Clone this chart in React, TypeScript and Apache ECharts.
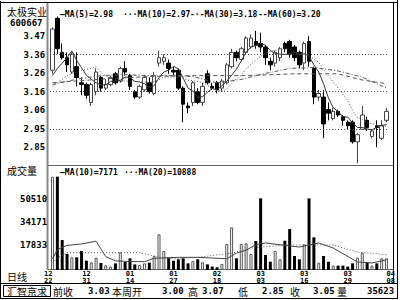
import React, { useEffect, useRef } from 'react';
import * as echarts from 'echarts';

const dates = [
  '12/22','12/23','12/24','12/27','12/28','12/29','12/30','12/31',
  '01/04','01/05','01/06','01/07','01/10','01/11','01/12','01/13','01/14',
  '01/17','01/18','01/19','01/20','01/21','01/24','01/25','01/26','01/27',
  '01/28','01/31','02/01','02/02','02/03','02/04','02/16','02/17','02/18',
  '02/21','02/22','02/23','02/24','02/25','02/28','03/01','03/02','03/03',
  '03/04','03/07','03/08','03/09','03/10','03/11','03/14','03/15','03/16',
  '03/17','03/18','03/21','03/22','03/23','03/24','03/25','03/28','03/29',
  '03/30','03/31','04/01','04/04','04/05','04/06','04/07','04/08'
];
const labelDates = ['12/22','12/31','01/14','01/27','02/18','03/03','03/16','03/29','04/08'];

const opens = [
  3.28,3.57,3.38,3.35,3.27,3.30,3.21,3.20,3.10,3.16,
  3.24,3.18,3.20,3.26,3.22,3.29,3.25,3.16,3.13,3.17,
  3.21,3.15,3.32,3.33,3.32,3.28,3.28,3.18,3.08,3.10,
  3.16,3.10,3.26,3.19,3.21,3.18,3.21,3.30,3.38,3.34,
  3.38,3.41,3.44,3.43,3.41,3.33,3.32,3.35,3.43,3.44,
  3.41,3.38,3.32,3.44,3.29,3.13,3.13,3.06,3.01,3.05,
  3.02,2.99,2.99,2.88,2.95,3.00,2.91,2.97,2.90,3.00
];
const closes = [
  3.51,3.40,3.35,3.31,3.37,3.24,3.20,3.14,3.20,3.27,
  3.18,3.20,3.24,3.21,3.29,3.27,3.19,3.13,3.19,3.24,
  3.16,3.25,3.35,3.35,3.29,3.27,3.18,3.09,3.07,3.21,
  3.10,3.19,3.21,3.18,3.17,3.22,3.31,3.38,3.35,3.40,
  3.46,3.46,3.42,3.41,3.35,3.31,3.38,3.40,3.40,3.37,
  3.35,3.31,3.43,3.33,3.13,3.15,2.98,3.04,3.05,3.03,
  3.00,2.97,2.88,2.92,3.03,2.96,2.94,2.96,2.97,3.05
];
const lows = [
  3.26,3.37,3.34,3.27,3.26,3.19,3.14,3.12,3.08,3.14,
  3.16,3.17,3.19,3.20,3.21,3.25,3.17,3.12,3.12,3.16,
  3.15,3.14,3.30,3.31,3.26,3.25,3.17,2.99,3.04,3.08,
  3.09,3.08,3.20,3.17,3.15,3.16,3.20,3.29,3.33,3.33,
  3.37,3.40,3.40,3.38,3.31,3.28,3.30,3.33,3.38,3.35,
  3.33,3.29,3.28,3.30,3.09,3.11,2.90,3.00,3.00,3.02,
  2.97,2.95,2.87,2.76,2.95,2.94,2.90,2.85,2.89,2.99
];
const highs = [
  3.52,3.58,3.43,3.38,3.38,3.38,3.24,3.21,3.21,3.29,
  3.25,3.23,3.25,3.27,3.30,3.33,3.26,3.17,3.20,3.25,
  3.24,3.27,3.39,3.37,3.34,3.30,3.29,3.19,3.10,3.22,
  3.18,3.21,3.28,3.21,3.22,3.23,3.32,3.40,3.39,3.41,
  3.47,3.48,3.50,3.49,3.42,3.35,3.39,3.41,3.44,3.45,
  3.42,3.39,3.44,3.47,3.30,3.17,3.17,3.10,3.07,3.06,
  3.03,3.00,3.00,2.93,3.08,3.02,2.95,3.00,3.00,3.07
];
const volumes = [
  66300,66300,21300,11400,9000,9000,13500,6600,5450,8800,
  5000,3300,2400,4700,12550,5700,8300,4000,3550,4700,
  5200,9900,25300,13500,8800,6600,7600,8300,4700,6400,
  7600,5450,4000,2400,1900,4300,18500,30300,8300,18500,
  19000,11400,20600,50900,10650,5900,13500,7600,20800,29100,
  9950,7600,18200,50900,23200,5200,9950,5900,3100,3100,
  3100,2400,4700,8800,12300,5450,3100,4700,8300,8300
];

const N = null;
const ma5 = [
  3.25,3.29,3.32,3.35,3.388,3.334,3.294,3.252,3.23,3.21,
  3.198,3.198,3.218,3.22,3.224,3.242,3.24,3.218,3.214,3.204,
  3.182,3.194,3.238,3.27,3.28,3.302,3.288,3.236,3.18,3.164,
  3.13,3.132,3.156,3.178,3.17,3.194,3.218,3.252,3.286,3.332,
  3.38,3.41,3.418,3.43,3.42,3.39,3.374,3.37,3.368,3.372,
  3.38,3.366,3.372,3.358,3.31,3.27,3.204,3.126,3.07,3.05,
  3.02,3.018,2.986,2.96,2.96,2.952,2.946,2.962,2.972,2.976
];
const ma10 = [
  3.19,3.21,3.23,3.25,3.26,3.27,3.28,3.285,3.29,3.299,
  3.266,3.246,3.235,3.225,3.217,3.22,3.219,3.218,3.217,3.214,
  3.212,3.217,3.228,3.242,3.242,3.242,3.241,3.237,3.225,3.222,
  3.216,3.21,3.196,3.179,3.167,3.162,3.175,3.204,3.232,3.251,
  3.287,3.314,3.335,3.358,3.376,3.385,3.392,3.394,3.399,3.396,
  3.385,3.37,3.371,3.363,3.341,3.325,3.285,3.249,3.214,3.18,
  3.145,3.111,3.056,3.015,3.005,2.986,2.982,2.974,2.966,2.968
];
const ma30 = [
  3.20,N,N,N,N,3.23,N,N,N,N,3.25,N,N,N,N,3.255,N,N,N,N,
  3.25,N,N,N,N,3.25,N,N,N,3.245,N,N,N,N,3.209,N,N,N,N,3.229,
  N,N,N,N,3.262,N,N,N,N,3.29,N,N,N,N,3.295,N,N,N,N,3.276,
  N,N,N,N,3.241,N,N,N,N,3.181
];
const ma60 = [
  3.21,N,N,N,N,N,N,N,N,N,3.23,N,N,N,N,N,N,N,N,N,
  3.245,N,N,N,N,N,N,N,N,N,3.25,N,N,N,N,N,N,N,N,N,
  3.25,N,N,N,N,N,N,N,N,N,3.26,N,N,N,N,N,N,N,N,3.26,
  N,N,N,N,3.225,N,N,N,N,3.205
];
const volMa10 = [
  8000,14500,N,17500,N,N,18500,N,N,20500,
  15000,9500,N,6500,N,N,6000,N,N,5900,
  N,8300,N,N,N,N,9000,N,N,N,
  9000,N,N,N,N,N,8000,N,12000,N,
  14000,N,18000,N,19200,N,N,N,N,N,
  N,16300,N,N,N,19200,N,N,15600,N,
  N,N,N,5700,N,N,5000,N,N,7171
];
const volMa20 = [
  5000,8500,N,12300,N,N,N,N,N,N,
  12300,N,N,N,N,N,N,N,12300,N,
  N,N,9200,N,N,8000,N,N,N,N,
  9000,N,N,N,N,N,N,12000,N,N,
  N,15600,N,N,N,N,N,N,17760,N,
  N,N,N,N,N,N,N,N,17760,N,
  N,N,N,12800,N,N,N,N,N,10888
];

const priceTicks = [2.85, 2.9533, 3.0567, 3.16, 3.2633, 3.3667, 3.47];
const priceTickLabels = ['2.85', '2.95', '3.06', '3.16', '3.26', '3.36', '3.47'];
const priceGridValues = [2.9533, 3.16, 3.3667];
const volTicks = [17833, 34171, 50510];

const legendPrice = ['MA(5)=2.98', 'MA(10)=2.97', 'MA(30)=3.18', 'MA(60)=3.20'];
const legendVol = ['MA(10)=7171', 'MA(20)=10888'];
const statusItems = [
  ['前收', '3.03'], ['本周开', '3.00'], ['高', '3.07'], ['低', '2.85'], ['收', '3.05'], ['量', '35623']
];

const MONO = '"DejaVu Sans Mono", monospace';
const CJK = '"Noto Sans CJK SC", sans-serif';

export default function App() {
  const ref = useRef<HTMLDivElement>(null);
  useEffect(() => {
    document.body.style.margin = '0';
    const chart = echarts.init(ref.current!, null, { renderer: 'svg' });
    const candle = opens.map((o, i) => [o, closes[i], lows[i], highs[i]]);
    const volData = volumes.map((v, i) => ({
      value: v,
      itemStyle: closes[i] >= opens[i]
        ? { color: '#fff', borderColor: '#555', borderWidth: 1 }
        : { color: '#000', borderColor: '#000', borderWidth: 0 }
    }));
    const labelIdx = labelDates.map(d => dates.indexOf(d));
    const gridL = 50.1, gridW = 338.8;
    const text = (x: number, y: number, t: string, opt: any = {}) => ({
      type: 'text', x, y, silent: true,
      style: { text: t, fill: '#000', font: `bold 9px ${MONO}`, textVerticalAlign: 'middle', ...opt }
    });
    const line = (x1: number, y1: number, x2: number, y2: number, stroke = '#000', w = 1) => ({
      type: 'line', shape: { x1, y1, x2, y2 }, style: { stroke, lineWidth: w }, silent: true
    });
    const statusX = [[53, 88], [112, 162], [188, 202], [238, 262], [290, 313], [337, 367]];
    const option: any = {
      animation: false,
      backgroundColor: '#fff',
      grid: [
        { left: gridL, width: gridW, top: 5, height: 160 },
        { left: gridL, width: gridW, top: 166, height: 104 }
      ],
      xAxis: [
        { type: 'category', gridIndex: 0, data: dates, boundaryGap: true,
          axisLine: { show: false }, axisTick: { show: false }, axisLabel: { show: false }, splitLine: { show: false } },
        { type: 'category', gridIndex: 1, data: dates, boundaryGap: true,
          axisLine: { show: false }, axisTick: { show: false }, splitLine: { show: false },
          axisLabel: {
            interval: (i: number) => labelIdx.includes(i),
            margin: 1,
            fontFamily: MONO, fontWeight: 'bold', fontSize: 7, lineHeight: 6.5, color: '#000',
            alignMinLabel: 'right', alignMaxLabel: 'left',
            formatter: (v: string) => v.replace('/', '\n')
          } }
      ],
      yAxis: [
        { type: 'value', gridIndex: 0, min: 2.7505, max: 3.6444, scale: true,
          axisLine: { show: false }, axisTick: { show: false }, splitLine: { show: false },
          axisLabel: {
            customValues: priceTicks, margin: 5, color: '#000', fontFamily: MONO, fontWeight: 'bold', fontSize: 9,
            formatter: (v: number) => {
              let best = 0;
              priceTicks.forEach((t, k) => { if (Math.abs(t - v) < Math.abs(priceTicks[best] - v)) best = k; });
              return priceTickLabels[best];
            }
          } },
        { type: 'value', gridIndex: 1, min: 0, max: 73880,
          axisLine: { show: false }, axisTick: { show: false }, splitLine: { show: false },
          axisLabel: { customValues: volTicks, margin: 3, color: '#000', fontFamily: MONO, fontWeight: 'bold', fontSize: 9,
            formatter: (v: number) => String(Math.round(v)) } }
      ],
      series: [
        { type: 'candlestick', xAxisIndex: 0, yAxisIndex: 0, data: candle, barWidth: 4,
          itemStyle: { color: '#fff', color0: '#000', borderColor: '#444', borderColor0: '#000', borderWidth: 1 },
          markLine: { silent: true, symbol: 'none', label: { show: false },
            lineStyle: { color: '#444', type: [1, 2], width: 1 },
            data: priceGridValues.map(v => ({ yAxis: v })) } },
        { type: 'line', xAxisIndex: 0, yAxisIndex: 0, data: ma5, connectNulls: true, showSymbol: false,
          lineStyle: { color: '#333', width: 1 } },
        { type: 'line', xAxisIndex: 0, yAxisIndex: 0, data: ma10, connectNulls: true, showSymbol: false,
          lineStyle: { color: '#555', width: 1, type: [1, 2] } },
        { type: 'line', xAxisIndex: 0, yAxisIndex: 0, data: ma30, connectNulls: true, showSymbol: false,
          lineStyle: { color: '#555', width: 1, type: [4, 2, 1, 2] } },
        { type: 'line', xAxisIndex: 0, yAxisIndex: 0, data: ma60, connectNulls: true, showSymbol: false,
          lineStyle: { color: '#555', width: 1, type: [4, 3] } },
        { type: 'bar', xAxisIndex: 1, yAxisIndex: 1, data: volData, barWidth: 3 },
        { type: 'line', xAxisIndex: 1, yAxisIndex: 1, data: volMa10, connectNulls: true, showSymbol: false,
          lineStyle: { color: '#444', width: 1 } },
        { type: 'line', xAxisIndex: 1, yAxisIndex: 1, data: volMa20, connectNulls: true, showSymbol: false,
          lineStyle: { color: '#555', width: 1, type: [1, 2] } }
      ],
      graphic: [
        line(0.5, 1, 0.5, 299, '#000', 1),
        line(0, 2.5, 398, 2.5, '#000', 1),
        line(393.5, 3, 393.5, 284, '#000', 1),
        line(397.5, 0, 397.5, 299, '#000', 1),
        line(47.5, 3, 47.5, 270, '#888', 2),
        line(48, 165.5, 393, 165.5, '#666', 1),
        line(48, 269.5, 393, 269.5, '#666', 1),
        line(0, 283.5, 398, 283.5, '#000', 1),
        line(0, 298.5, 398, 298.5, '#000', 1),
        { type: 'rect', silent: true, shape: { x: 3.5, y: 285.5, width: 47, height: 11 }, style: { fill: 'none', stroke: '#000', lineWidth: 1 } },
        text(7, 11.5, '太极实业', { font: `10px ${CJK}` }),
        text(10, 23, '600667'),
        text(7, 170.5, '成交量', { font: `10px ${CJK}` }),
        text(7, 276, '日线', { font: `10px ${CJK}` }),
        text(60, 14, '—' + legendPrice[0], { font: `bold 8px ${MONO}` }),
        text(123, 14, '···' + legendPrice[1], { font: `bold 8px ${MONO}` }),
        text(190, 14, '-·-' + legendPrice[2], { font: `bold 8px ${MONO}` }),
        text(258, 14, '--' + legendPrice[3], { font: `bold 8px ${MONO}` }),
        text(60, 172, '—' + legendVol[0], { font: `bold 8px ${MONO}` }),
        text(124, 172, '···' + legendVol[1], { font: `bold 8px ${MONO}` }),
        text(7, 291, '汇智京求', { font: `10px ${CJK}` }),
        ...statusItems.flatMap((s, k) => [
          text(statusX[k][0], 291, s[0], { font: `10px ${CJK}` }),
          text(statusX[k][1], 291, s[1], { font: `bold 9px ${MONO}` })
        ])
      ]
    };
    chart.setOption(option);
    return () => chart.dispose();
  }, []);
  return <div ref={ref} style={{ position: 'fixed', left: 0, top: 0, width: 400, height: 300 }} />;
}
